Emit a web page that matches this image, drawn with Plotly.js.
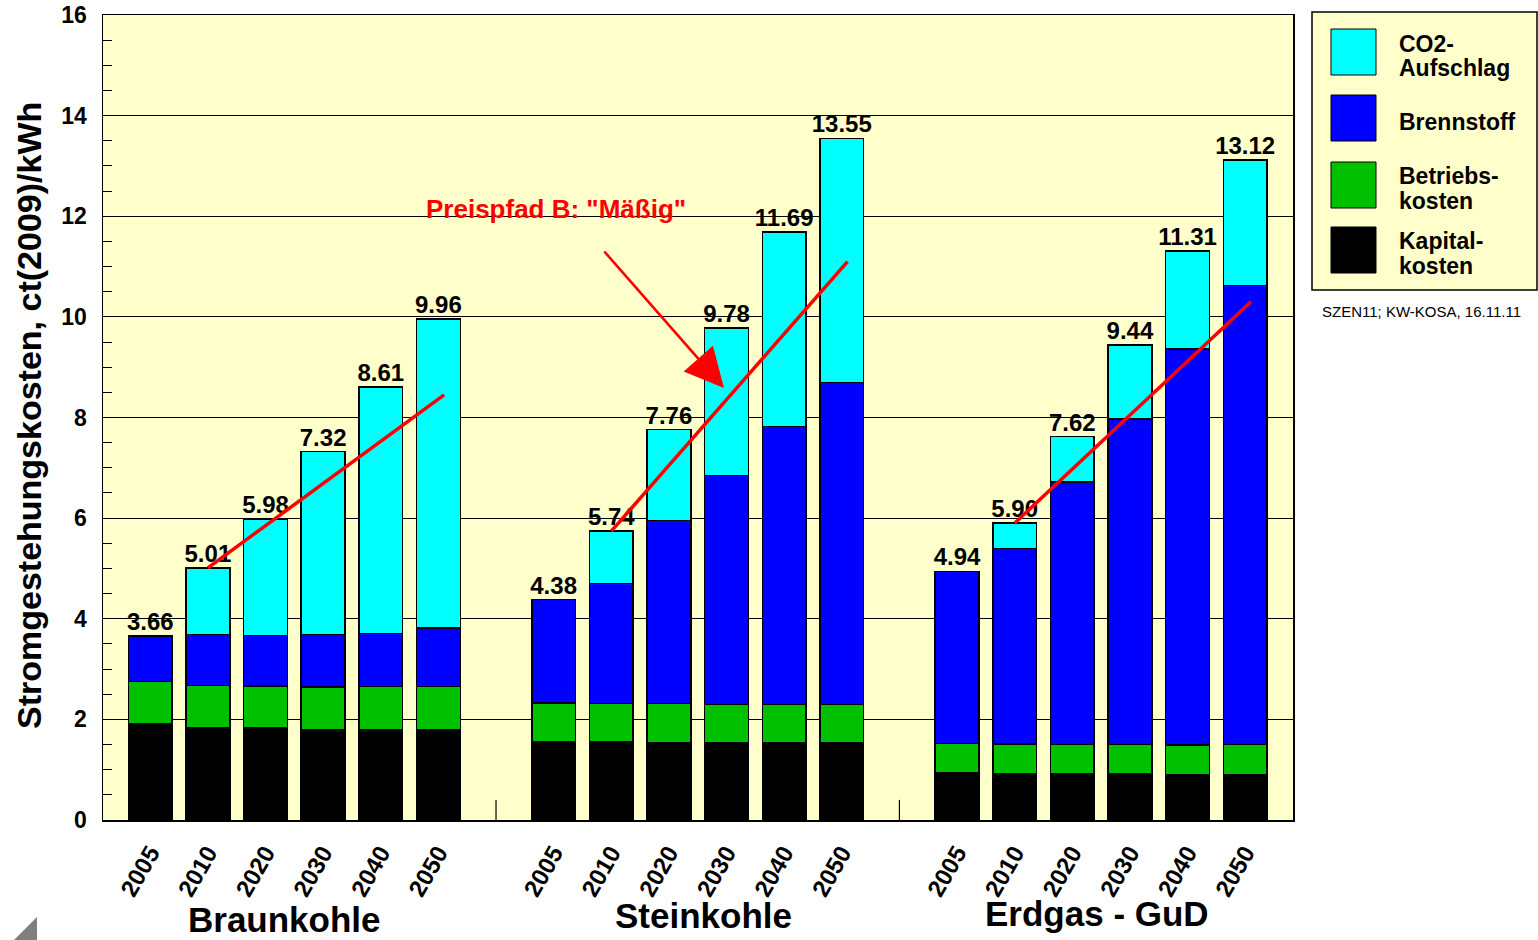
<!DOCTYPE html>
<html>
<head>
<meta charset="utf-8">
<script src="https://cdn.plot.ly/plotly-3.0.1.min.js"></script>
<style>
  html, body { margin: 0; padding: 0; background: #ffffff; }
  #chart { width: 1538px; height: 940px; }
</style>
</head>
<body>
<div id="chart"></div>
<script>
// ---------------- data ----------------
const years = ['2005', '2010', '2020', '2030', '2040', '2050'];
const groups = ['Braunkohle', 'Steinkohle', 'Erdgas - GuD'];
const seriesNames = ['CO2-<br>Aufschlag', 'Brennstoff', 'Betriebs-<br>kosten', 'Kapital-<br>kosten'];
const yTickVals = [0, 2, 4, 6, 8, 10, 12, 14, 16];

const kapitalBraun = [1.91, 1.84, 1.83, 1.79, 1.79, 1.79];
const betriebBraun = [0.84, 0.83, 0.83, 0.85, 0.86, 0.86];
const brennBraun   = [0.91, 1.02, 1.01, 1.05, 1.06, 1.17];
const co2Braun     = [0.00, 1.32, 2.31, 3.63, 4.90, 6.14];

const kapitalStein = [1.55, 1.55, 1.54, 1.53, 1.53, 1.53];
const betriebStein = [0.78, 0.77, 0.78, 0.77, 0.77, 0.77];
const brennStein   = [2.05, 2.38, 3.63, 4.55, 5.52, 6.40];
const co2Stein     = [0.00, 1.04, 1.81, 2.93, 3.87, 4.85];

const kapitalGas = [0.93, 0.92, 0.91, 0.91, 0.90, 0.90];
const betriebGas = [0.59, 0.59, 0.59, 0.59, 0.59, 0.60];
const brennGas   = [3.42, 3.89, 5.22, 6.47, 7.87, 9.12];
const co2Gas     = [0.00, 0.50, 0.90, 1.47, 1.95, 2.50];

// red trend lines "Preispfad B": from 2010 total to value at 2050
const trendEndBraun = 8.45;
const trendEndStein = 11.10;
const trendEndGas   = 10.30;

const annotationText = 'Preispfad B: "Mäßig"';
const sourceText = 'SZEN11; KW-KOSA, 16.11.11';
const yTitle = 'Stromgestehungskosten, ct(2009)/kWh';

// ---------------- build ----------------
const kapital = [kapitalBraun, kapitalStein, kapitalGas];
const betrieb = [betriebBraun, betriebStein, betriebGas];
const brenn = [brennBraun, brennStein, brennGas];
const co2 = [co2Braun, co2Stein, co2Gas];
const trendEnd = [trendEndBraun, trendEndStein, trendEndGas];

const slotsPerGroup = years.length + 1;
const xs = [], xt = [];
groups.forEach((g, gi) => years.forEach((y, yi) => { xs.push(gi * slotsPerGroup + yi); xt.push(y); }));
const flat = arr => [].concat(...arr);

const K = flat(kapital), B = flat(betrieb), F = flat(brenn), C = flat(co2);
const totals = K.map((v, i) => v + B[i] + F[i] + C[i]);

const FONT = 'Liberation Sans, Arial, sans-serif';
const colors = { co2: '#00ffff', brenn: '#0000ff', betrieb: '#00c000', kapital: '#000000' };
const barLine = { color: '#000000', width: 1.5 };
const bw = 0.76;

const traces = [
  { type: 'bar', x: xs, y: K, name: 'Kapitalkosten', width: bw, marker: { color: colors.kapital, line: barLine }, hoverinfo: 'y' },
  { type: 'bar', x: xs, y: B, name: 'Betriebskosten', width: bw, marker: { color: colors.betrieb, line: barLine }, hoverinfo: 'y' },
  { type: 'bar', x: xs, y: F, name: 'Brennstoff', width: bw, marker: { color: colors.brenn, line: barLine }, hoverinfo: 'y' },
  { type: 'bar', x: xs, y: C, name: 'CO2-Aufschlag', width: bw, marker: { color: colors.co2, line: barLine }, hoverinfo: 'y' },
  { type: 'scatter', mode: 'text', x: xs, y: totals, text: totals.map(v => v.toFixed(2)),
    textposition: 'top center', cliponaxis: false,
    textfont: { family: FONT, size: 24, color: '#000000', weight: 'bold' }, hoverinfo: 'skip' }
];

// trend lines
groups.forEach((g, gi) => {
  const x0 = gi * slotsPerGroup + 1, x1 = gi * slotsPerGroup + years.length - 1 + 0.1;
  traces.push({ type: 'scatter', mode: 'lines', x: [x0, x1], y: [totals[gi * years.length + 1], trendEnd[gi]],
    line: { color: '#ff0000', width: 3.5 }, hoverinfo: 'skip' });
});

// ---------------- layout helpers ----------------
const W = 1538, H = 940;
const M = { l: 103, r: 245, t: 15, b: 120 };
const PW = W - M.l - M.r, PH = H - M.t - M.b;
const px = p => (p - M.l) / PW;          // pixel x -> paper
const py = p => (H - M.b - p) / PH;      // pixel y -> paper

const shapes = [];
const annotations = [];

// group separators (small ticks at bottom)
for (let gi = 1; gi < groups.length; gi++) {
  const xsep = gi * slotsPerGroup - 1;
  shapes.push({ type: 'line', xref: 'x', yref: 'y', x0: xsep, x1: xsep, y0: 0, y1: 0.4, line: { color: '#000', width: 1.2 } });
}

// group titles
const groupShift = [-10, 6, -4];
groups.forEach((g, gi) => {
  annotations.push({ xref: 'x', yref: 'paper', x: gi * slotsPerGroup + (years.length - 1) / 2, y: py(919 - gi * 3),
    xshift: groupShift[gi],
    text: g, showarrow: false, xanchor: 'center', yanchor: 'middle',
    font: { family: FONT, size: 35, color: '#000', weight: 'bold' } });
});

// y title
annotations.push({ xref: 'paper', yref: 'paper', x: px(29), y: py(416), text: yTitle, textangle: -90,
  showarrow: false, xanchor: 'center', yanchor: 'middle',
  font: { family: FONT, size: 34, color: '#000', weight: 'bold' } });

// red annotation text and arrow
annotations.push({ xref: 'paper', yref: 'paper', x: px(556), y: py(209), text: annotationText, showarrow: false,
  xanchor: 'center', yanchor: 'middle',
  font: { family: FONT, size: 26, color: '#ff0000', weight: 'bold' } });
annotations.push({ xref: 'paper', yref: 'paper', x: px(724), y: py(388), ax: px(603), ay: py(250),
  axref: 'paper', ayref: 'paper', text: '', showarrow: true, arrowhead: 2, arrowsize: 3, arrowwidth: 2.6,
  arrowcolor: '#ff0000', standoff: 0 });

// custom legend
const legX0 = 1312, legX1 = 1537, legY0 = 12, legY1 = 290;
shapes.push({ type: 'rect', xref: 'paper', yref: 'paper', x0: px(legX0), x1: px(legX1), y0: py(legY1), y1: py(legY0),
  fillcolor: '#ffffcc', line: { color: '#000', width: 1.5 }, layer: 'above' });
const legColors = [colors.co2, colors.brenn, colors.betrieb, colors.kapital];
const legCenters = [52, 118, 185, 250];
const legTextCenters = [56, 122, 188, 253];
seriesNames.forEach((n, i) => {
  const cy = legCenters[i];
  shapes.push({ type: 'rect', xref: 'paper', yref: 'paper', x0: px(1331), x1: px(1376), y0: py(cy + 23), y1: py(cy - 23),
    fillcolor: legColors[i], line: { color: '#000', width: 1 }, layer: 'above' });
  const lines = n.split('<br>');
  const lh = 25;
  lines.forEach((ln, li) => {
    const ty = legTextCenters[i] + (li - (lines.length - 1) / 2) * lh;
    annotations.push({ xref: 'paper', yref: 'paper', x: px(1397), y: py(ty), text: ln, showarrow: false, xanchor: 'left',
      yanchor: 'middle', align: 'left',
      font: { family: FONT, size: 23, color: '#000', weight: 'bold' } });
  });
});
annotations.push({ xref: 'paper', yref: 'paper', x: px(1421), y: py(312), text: sourceText, showarrow: false,
  xanchor: 'center', yanchor: 'middle', font: { family: FONT, size: 15, color: '#000' } });

// gray corner fragment (bottom left)
shapes.push({ type: 'path', xref: 'paper', yref: 'paper',
  path: `M ${px(14)} ${py(940)} L ${px(37)} ${py(917)} L ${px(37)} ${py(940)} Z`,
  fillcolor: '#7f7f7f', line: { width: 0 } });

const layout = {
  width: W, height: H,
  margin: M,
  paper_bgcolor: '#ffffff',
  plot_bgcolor: '#ffffcc',
  barmode: 'stack',
  showlegend: false,
  xaxis: {
    range: [-0.82, 19.83],
    tickvals: xs, ticktext: xt, tickangle: -60,
    ticks: '', showgrid: false, zeroline: false,
    showline: true, mirror: true, linecolor: '#000', linewidth: 1.5,
    tickfont: { family: FONT, size: 24, color: '#000', weight: 'bold' },
    ticklabelstandoff: 8
  },
  yaxis: {
    range: [0, 16],
    tickvals: yTickVals,
    ticktext: yTickVals.map(String),
    ticklabeloverflow: 'allow',
    showgrid: true, gridcolor: '#000', gridwidth: 1,
    zeroline: false,
    showline: true, mirror: true, linecolor: '#000', linewidth: 1.5,
    ticks: 'inside', ticklen: 9, tickcolor: '#000',
    minor: { dtick: 0.5, ticks: 'inside', ticklen: 9, tickcolor: '#000', showgrid: false },
    tickfont: { family: FONT, size: 23, color: '#000', weight: 'bold' },
    ticklabelstandoff: 10
  },
  shapes: shapes,
  annotations: annotations
};

Plotly.newPlot('chart', traces, layout, { displayModeBar: false, staticPlot: true });
</script>
</body>
</html>
